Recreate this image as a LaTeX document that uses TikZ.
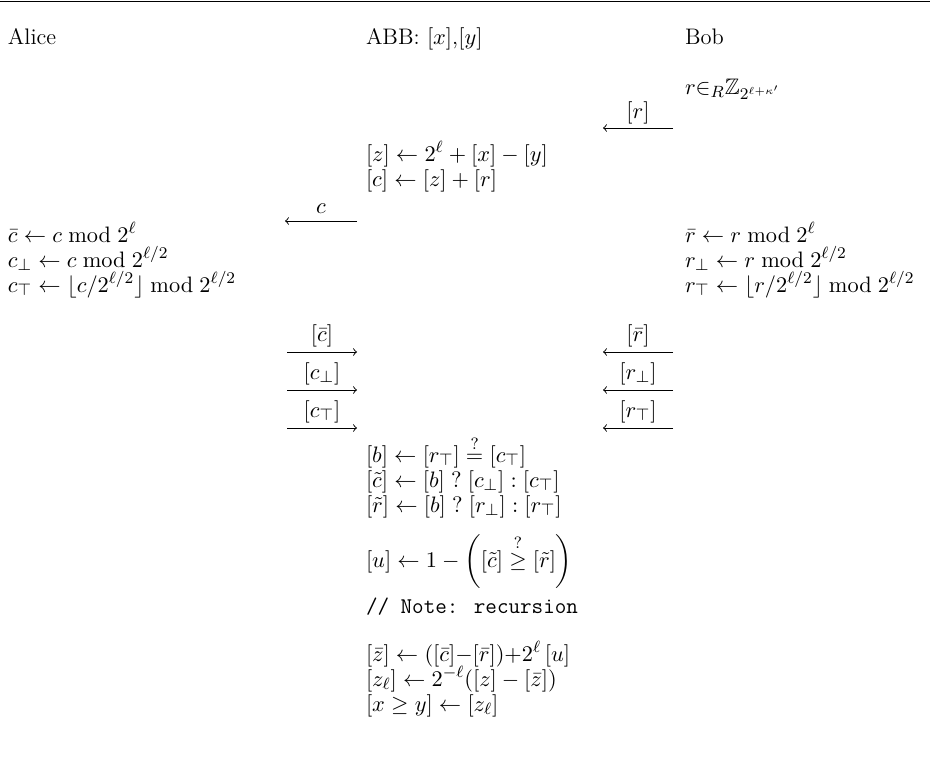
\documentclass[tikz,border=0pt]{standalone}
\usepackage{amsmath,amssymb}
\begin{document}
\begin{tikzpicture}[x=0.49pt,y=-0.49pt,
  font=\fontsize{11}{13}\selectfont,
  txt/.style={anchor=base west, inner sep=0pt, outer sep=0pt},
  lbl/.style={anchor=base, inner sep=0pt, outer sep=0pt},
  msg/.style={line width=0.45pt, -to}]
\useasboundingbox (0,0) rectangle (944,773);
% top rule
\coordinate (rl) at (0,1.5);
\coordinate (rr) at (930,1.5);
\draw[line width=0.8pt] (rl) -- (rr);
% headers
\node[txt] (alice) at (8,44) {Alice};
\node[txt] (abb) at (366,44) {ABB: $[x]$,$[y]$};
\node[txt] (bob) at (685,44) {Bob};
% Bob samples r
\node[txt] (bsamp) at (685,94) {$r{\in_R}\mathbb{Z}_{2^{\ell+\kappa'}}$};
% message [r]
\coordinate (r1s) at (673,128); \coordinate (r1e) at (603,128);
\draw[msg] (r1s) -- (r1e);
\node[lbl] (r1l) at (638,118) {$[r]$};
% ABB
\node[txt] (z1) at (366,161) {$[z] \leftarrow 2^\ell + [x] - [y]$};
\node[txt] (c1) at (366,186) {$[c] \leftarrow [z] + [r]$};
% message c
\coordinate (c1s) at (357,221); \coordinate (c1e) at (285,221);
\draw[msg] (c1s) -- (c1e);
\node[lbl] (c1l) at (321,213) {$c$};
% Alice
\node[txt] (a1) at (8,242) {$\bar c \leftarrow c \bmod 2^\ell$};
\node[txt] (a2) at (8,267) {$c_\bot \leftarrow c \bmod 2^{\ell/2}$};
\node[txt] (a3) at (8,292) {$c_\top \leftarrow \lfloor c/2^{\ell/2}\rfloor \bmod 2^{\ell/2}$};
% Bob
\node[txt] (b1) at (685,242) {$\bar r \leftarrow r \bmod 2^\ell$};
\node[txt] (b2) at (685,267) {$r_\bot \leftarrow r \bmod 2^{\ell/2}$};
\node[txt] (b3) at (685,292) {$r_\top \leftarrow \lfloor r/2^{\ell/2}\rfloor \bmod 2^{\ell/2}$};
% Alice messages
\coordinate (m1s) at (287,352); \coordinate (m1e) at (357,352);
\draw[msg] (m1s) -- (m1e);
\node[lbl] (m1l) at (322,341) {$[\bar c]$};
\coordinate (m2s) at (287,390); \coordinate (m2e) at (357,390);
\draw[msg] (m2s) -- (m2e);
\node[lbl] (m2l) at (322,379) {$[c_\bot]$};
\coordinate (m3s) at (287,428); \coordinate (m3e) at (357,428);
\draw[msg] (m3s) -- (m3e);
\node[lbl] (m3l) at (322,417) {$[c_\top]$};
% Bob messages
\coordinate (n1s) at (673,352); \coordinate (n1e) at (603,352);
\draw[msg] (n1s) -- (n1e);
\node[lbl] (n1l) at (638,341) {$[\bar r]$};
\coordinate (n2s) at (673,390); \coordinate (n2e) at (603,390);
\draw[msg] (n2s) -- (n2e);
\node[lbl] (n2l) at (638,379) {$[r_\bot]$};
\coordinate (n3s) at (673,428); \coordinate (n3e) at (603,428);
\draw[msg] (n3s) -- (n3e);
\node[lbl] (n3l) at (638,417) {$[r_\top]$};
% ABB computations
\node[txt] (s1) at (366,462) {$[b] \leftarrow [r_\top] \overset{?}{=} [c_\top]$};
\node[txt] (s2) at (366,487) {$[\tilde c] \leftarrow [b]\;?\;[c_\bot] : [c_\top]$};
\node[txt] (s3) at (366,512) {$[\tilde r] \leftarrow [b]\;?\;[r_\bot] : [r_\top]$};
\node[txt] (s4) at (366,567) {$[u] \leftarrow 1 - \left(\vrule height 13.5pt depth 9.5pt width 0pt [\tilde c] \overset{?}{\geq} [\tilde r] \right)$};
\node[txt] (s5) at (366,613) {\texttt{// Note: recursion}};
\node[txt] (s6) at (366,661) {$[\bar z] \leftarrow ([\bar c]{-}[\bar r]){+}2^\ell\,[u]$};
\node[txt] (s7) at (366,686) {$[z_\ell] \leftarrow 2^{-\ell}([z] - [\bar z])$};
\node[txt] (s8) at (366,711) {$[x \geq y] \leftarrow [z_\ell]$};
\end{tikzpicture}
\end{document}
